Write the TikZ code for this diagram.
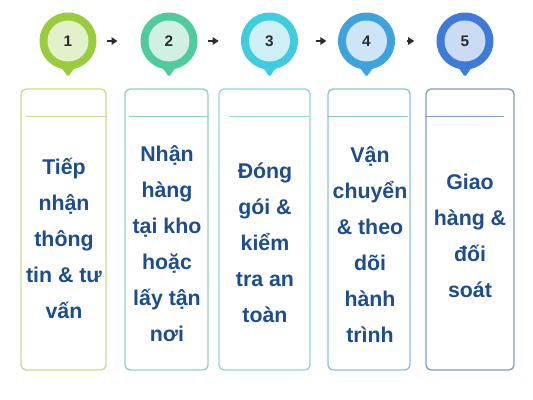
\documentclass[tikz,border=0pt]{standalone}
\usepackage{fontspec}
\setmainfont{Liberation Sans}
\usetikzlibrary{arrows.meta,calc}
\definecolor{po1}{HTML}{9ACD3E}\definecolor{pi1}{HTML}{E3F1CB}\definecolor{bd1}{HTML}{C9DB8E}
\definecolor{po2}{HTML}{4FCB9E}\definecolor{pi2}{HTML}{D0F0E3}\definecolor{bd2}{HTML}{8DD3C3}
\definecolor{po3}{HTML}{3FCCDF}\definecolor{pi3}{HTML}{CDEFF5}\definecolor{bd3}{HTML}{8FD6DC}
\definecolor{po4}{HTML}{3FA3DB}\definecolor{pi4}{HTML}{CDE5F6}\definecolor{bd4}{HTML}{8CC2D6}
\definecolor{po5}{HTML}{3E7BD8}\definecolor{pi5}{HTML}{CADBF4}\definecolor{bd5}{HTML}{7D9EC4}
\definecolor{txtblue}{HTML}{1C4E8E}
\definecolor{numcol}{HTML}{2B2B2B}
\begin{document}
\begin{tikzpicture}[x=0.75pt,y=-0.75pt,
  pinouter/.style={circle,inner sep=0pt,minimum size=42.75pt},
  pininner/.style={circle,inner sep=0pt,minimum size=30.75pt,font=\fontsize{11.5}{13}\selectfont\bfseries,text=numcol},
  flowarrow/.style={-{Triangle[length=4.5pt,width=5.5pt]},line width=1.5pt,draw=numcol},
  stepcard/.style={draw,rounded corners=3.75pt,line width=1pt,minimum height=210.75pt,inner sep=0pt},
  steptext/.style={align=center,text=txtblue,font=\fontsize{16}{27}\selectfont\bfseries}]
\useasboundingbox (0,0) rectangle (533,400);
\fill[white] (0,0) rectangle (533,400);
% pins
\foreach \i/\cx in {1/68,2/169,3/269.5,4/366.5,5/465}{
  \fill[po\i,rounded corners=1.2pt] (\cx-9,64) -- (\cx,77) -- (\cx+9,64) -- cycle;
  \node[pinouter,fill=po\i] (p\i) at (\cx,41) {};
  \node[pininner,fill=pi\i] (n\i) at (\cx,41) {\i};
}
% arrows
\draw[flowarrow,shorten <=7.5pt,shorten >=17pt] (p1.east) -- (p2.west);
\draw[flowarrow,shorten <=7.5pt,shorten >=16.5pt] (p2.east) -- (p3.west);
\draw[flowarrow,shorten <=13pt,shorten >=8.5pt] (p3.east) -- (p4.west);
\draw[flowarrow,shorten <=8.5pt,shorten >=16.5pt] (p4.east) -- (p5.west);
% cards
\node[stepcard,draw=bd1,minimum width=63.75pt] (b1) at (63.5,229.5) {};
\node[stepcard,draw=bd2,minimum width=62.25pt] (b2) at (166.5,229.5) {};
\node[stepcard,draw=bd3,minimum width=68.25pt] (b3) at (264.5,229.5) {};
\node[stepcard,draw=bd4,minimum width=61.5pt] (b4) at (369,229.5) {};
\node[stepcard,draw=bd5,minimum width=66pt] (b5) at (470,229.5) {};
\draw[bd1,line width=1pt] ($(b1.north west)+(6,28)$) -- ($(b1.north east)+(0,28)$);
\draw[bd2,line width=1pt] ($(b2.north west)+(5,28)$) -- ($(b2.north east)+(0,28)$);
\draw[bd3,line width=1pt] ($(b3.north west)+(11,28)$) -- ($(b3.north east)+(-2,28)$);
\draw[bd4,line width=1pt] ($(b4.north west)+(0,28)$) -- ($(b4.north east)+(-3,28)$);
\draw[bd5,line width=1pt] ($(b5.north west)+(0,28)$) -- ($(b5.north east)+(-11,28)$);
% texts
\node[steptext] (t1) at (64,238) {Tiếp\\nhận\\thông\\tin \& tư\\vấn};
\node[steptext] (t2) at (167,244) {Nhận\\hàng\\tại kho\\hoặc\\lấy tận\\nơi};
\node[steptext] (t3) at (265,243) {Đóng\\gói \&\\kiểm\\tra an\\toàn};
\node[steptext] (t4) at (370,245) {Vận\\chuyển\\\& theo\\dõi\\hành\\trình};
\node[steptext] (t5) at (470,236) {Giao\\hàng \&\\đối\\soát};
\end{tikzpicture}
\end{document}
